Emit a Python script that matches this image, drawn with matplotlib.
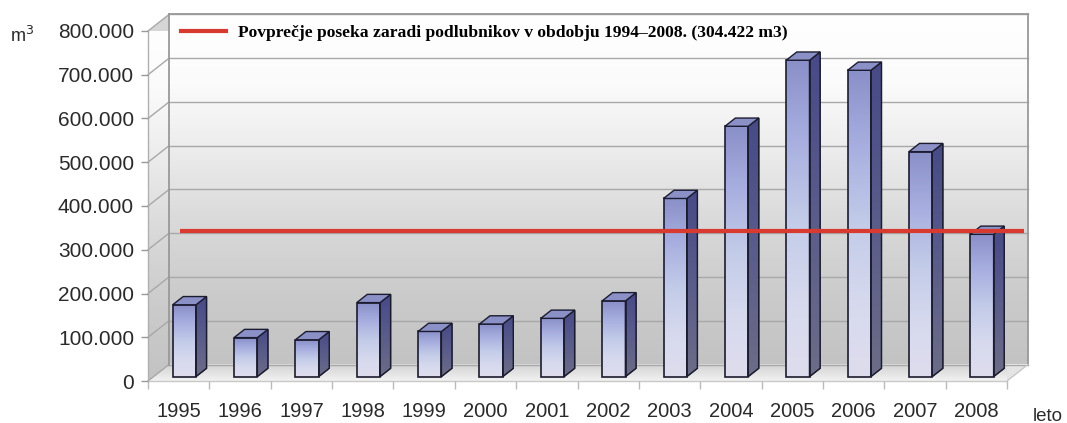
import numpy as np
import matplotlib
matplotlib.use("Agg")
import matplotlib.pyplot as plt
from matplotlib.patches import Polygon, Rectangle
from matplotlib.lines import Line2D
from matplotlib.colors import LinearSegmentedColormap

# ---------------- data ----------------
years = ["1995", "1996", "1997", "1998", "1999", "2000", "2001",
         "2002", "2003", "2004", "2005", "2006", "2007", "2008"]
felling_m3 = [164000, 89000, 84000, 169000, 103000, 120000, 133000,
              173000, 407000, 572000, 723000, 700000, 514000, 325000]
average_m3 = 304422
y_ticks = [0, 100000, 200000, 300000, 400000, 500000, 600000, 700000, 800000]
y_tick_labels = ["0", "100.000", "200.000", "300.000", "400.000",
                 "500.000", "600.000", "700.000", "800.000"]
legend_label = "Povprečje poseka zaradi podlubnikov v obdobju 1994–2008. (304.422 m3)"
y_unit = "m$^3$"
x_unit = "leto"

# ---------------- figure / front plane axes ----------------
W, H = 1067, 423
fig = plt.figure(figsize=(W / 100, H / 100), dpi=100)
fig.patch.set_facecolor("white")

left_px, right_px, top_px, bot_px = 148, 1007, 31, 381
ax = fig.add_axes([left_px / W, 1 - bot_px / H,
                   (right_px - left_px) / W, (bot_px - top_px) / H])
n = len(years)
ymax = 800000
ax.set_xlim(-0.5, n - 0.5)
ax.set_ylim(0, ymax)
ax.patch.set_alpha(0)
for s in ax.spines.values():
    s.set_visible(False)

# depth vector (front plane -> back wall), converted to data units
px_per_cat = (right_px - left_px) / n
px_per_val = (bot_px - top_px) / ymax
DX = 21 / px_per_cat
DY = 16.5 / px_per_val

x0, x1 = -0.5, n - 0.5

# ---- background gradients ----
wall_cmap = LinearSegmentedColormap.from_list(
    "wall", ["#c3c3c3", "#cbcbcb", "#d9d9d9", "#ebebeb", "#fbfbfb", "#ffffff"])
grad = np.linspace(0, 1, 256).reshape(-1, 1)
im = ax.imshow(grad, cmap=wall_cmap, origin="lower", aspect="auto",
               extent=[x0 + DX, x1 + DX, DY, ymax + DY], zorder=0.1,
               interpolation="bilinear")
im.set_clip_on(False)

# left side wall
side_wall = Polygon([(x0, 0), (x0 + DX, DY), (x0 + DX, ymax + DY), (x0, ymax)],
                    closed=True, facecolor="#d6d6d6", edgecolor="none",
                    zorder=0.2, clip_on=False)
ax.add_patch(side_wall)
im2 = ax.imshow(grad, cmap=wall_cmap, origin="lower", aspect="auto",
                extent=[x0, x0 + DX, 0, ymax + DY], zorder=0.25,
                interpolation="bilinear")
im2.set_clip_path(side_wall)

# floor
floor = Polygon([(x0, 0), (x1, 0), (x1 + DX, DY), (x0 + DX, DY)],
                closed=True, facecolor="#e4e4e4", edgecolor="none",
                zorder=0.2, clip_on=False)
ax.add_patch(floor)
floor_cmap = LinearSegmentedColormap.from_list("floor", ["#f2f2f2", "#d2d2d2"])
im3 = ax.imshow(grad, cmap=floor_cmap, origin="lower", aspect="auto",
                extent=[x0, x1 + DX, 0, DY], zorder=0.25,
                interpolation="bilinear")
im3.set_clip_path(floor)

# gridlines on back wall and side wall
grid_c = "#a8a8a8"
for t in y_ticks:
    ax.plot([x0 + DX, x1 + DX], [t + DY, t + DY], color=grid_c, lw=1.0,
            zorder=0.5, clip_on=False)
    ax.plot([x0, x0 + DX], [t, t + DY], color=grid_c, lw=1.0,
            zorder=0.5, clip_on=False)
# wall edges
ax.plot([x0 + DX, x0 + DX], [DY, ymax + DY], color="#999999", lw=1.3, zorder=0.6, clip_on=False)
ax.plot([x1 + DX, x1 + DX], [DY, ymax + DY], color="#999999", lw=1.3, zorder=0.6, clip_on=False)
ax.plot([x0 + DX, x1 + DX], [ymax + DY, ymax + DY], color="#999999", lw=1.3, zorder=0.6, clip_on=False)
ax.plot([x0, x0], [0, ymax], color="#b0b0b0", lw=1.0, zorder=0.6, clip_on=False)
ax.plot([x0, x1], [0, 0], color="#c8c8c8", lw=1.0, zorder=0.6, clip_on=False)
ax.plot([x1, x1 + DX], [0, DY], color="#c8c8c8", lw=1.0, zorder=0.6, clip_on=False)

# ---- bars (pseudo 3D) ----
front_cmap = LinearSegmentedColormap.from_list(
    "front", ["#dedded", "#d6d9ee", "#c2cbe8", "#a8afe0", "#8a90c8"])
side_cmap = LinearSegmentedColormap.from_list("side", ["#6c6d86", "#5a5c8a", "#474a86"])
bw = 0.38
fd = 0.27   # depth of bar front face
bd = 0.50   # bar depth
edge = "#1c1c30"
for i, v in enumerate(felling_m3):
    xl = i - bw / 2 + fd * DX
    xr = i + bw / 2 + fd * DX
    yb = fd * DY
    yt = v + fd * DY
    z = 2 + i * 0.01
    ax.imshow(grad, cmap=front_cmap, origin="lower", aspect="auto",
              extent=[xl, xr, yb, yt], zorder=z, interpolation="bilinear")
    ax.add_patch(Rectangle((xl, yb), xr - xl, yt - yb, facecolor="none",
                           edgecolor=edge, lw=1.2, zorder=z + 0.001))
    side = Polygon([(xr, yb), (xr + bd * DX, yb + bd * DY),
                    (xr + bd * DX, yt + bd * DY), (xr, yt)],
                   closed=True, facecolor="#5a5c8a", edgecolor=edge, lw=1.0,
                   zorder=z)
    ax.add_patch(side)
    ims = ax.imshow(grad, cmap=side_cmap, origin="lower", aspect="auto",
                    extent=[xr, xr + bd * DX, yb, yt + bd * DY], zorder=z + 0.0005,
                    interpolation="bilinear")
    ims.set_clip_path(side)
    ax.add_patch(Polygon([(xr, yb), (xr + bd * DX, yb + bd * DY),
                          (xr + bd * DX, yt + bd * DY), (xr, yt)],
                         closed=True, facecolor="none", edgecolor=edge, lw=1.0,
                         zorder=z + 0.002))
    ax.add_patch(Polygon([(xl, yt), (xr, yt), (xr + bd * DX, yt + bd * DY),
                          (xl + bd * DX, yt + bd * DY)],
                         closed=True, facecolor="#8b90c6", edgecolor=edge, lw=1.0,
                         zorder=z + 0.002))

# ---- average line on back wall ----
red = "#d83a30"
ax.plot([x0 + DX + 0.18, x1 + DX - 0.07], [average_m3 + DY, average_m3 + DY],
        color=red, lw=3.0, zorder=5, clip_on=False, solid_capstyle="butt")

# ---- axes ticks and labels (front plane) ----
ax.set_yticks(y_ticks)
ax.set_yticklabels(y_tick_labels, fontsize=15, color="#2a2a2a",
                   fontfamily="Liberation Sans")
ax.tick_params(axis="y", length=5, width=1, color="#999999", pad=5)
ax.set_xticks(range(n))
ax.set_xticklabels(years, fontsize=14.5, color="#2a2a2a", fontfamily="Liberation Sans")
ax.set_xticks(np.arange(n + 1) - 0.5, minor=True)
ax.tick_params(axis="x", which="major", length=0, pad=15)
ax.tick_params(axis="x", which="minor", length=6, width=1, color="#bbbbbb")

# ---- legend ----
leg_handle = Line2D([0], [0], color=red, lw=3.0)
leg = ax.legend([leg_handle], [legend_label], loc="upper left",
                bbox_to_anchor=((180 - 15 - left_px) / (right_px - left_px), 1.063),
                frameon=False, handlelength=2.6, handletextpad=0.65,
                prop={"family": "Liberation Serif", "weight": "bold", "size": 12.6})
leg.set_zorder(6)

# ---- unit labels ----
fig.text(10 / W, 1 - 36 / H, y_unit, fontsize=13, color="#2a2a2a",
         fontfamily="Liberation Sans", va="center", ha="left")
fig.text(1033 / W, 1 - 416 / H, x_unit, fontsize=13.5, color="#2a2a2a",
         fontfamily="Liberation Sans", va="center", ha="left")

fig.savefig("out.png", dpi=100, facecolor="white")
